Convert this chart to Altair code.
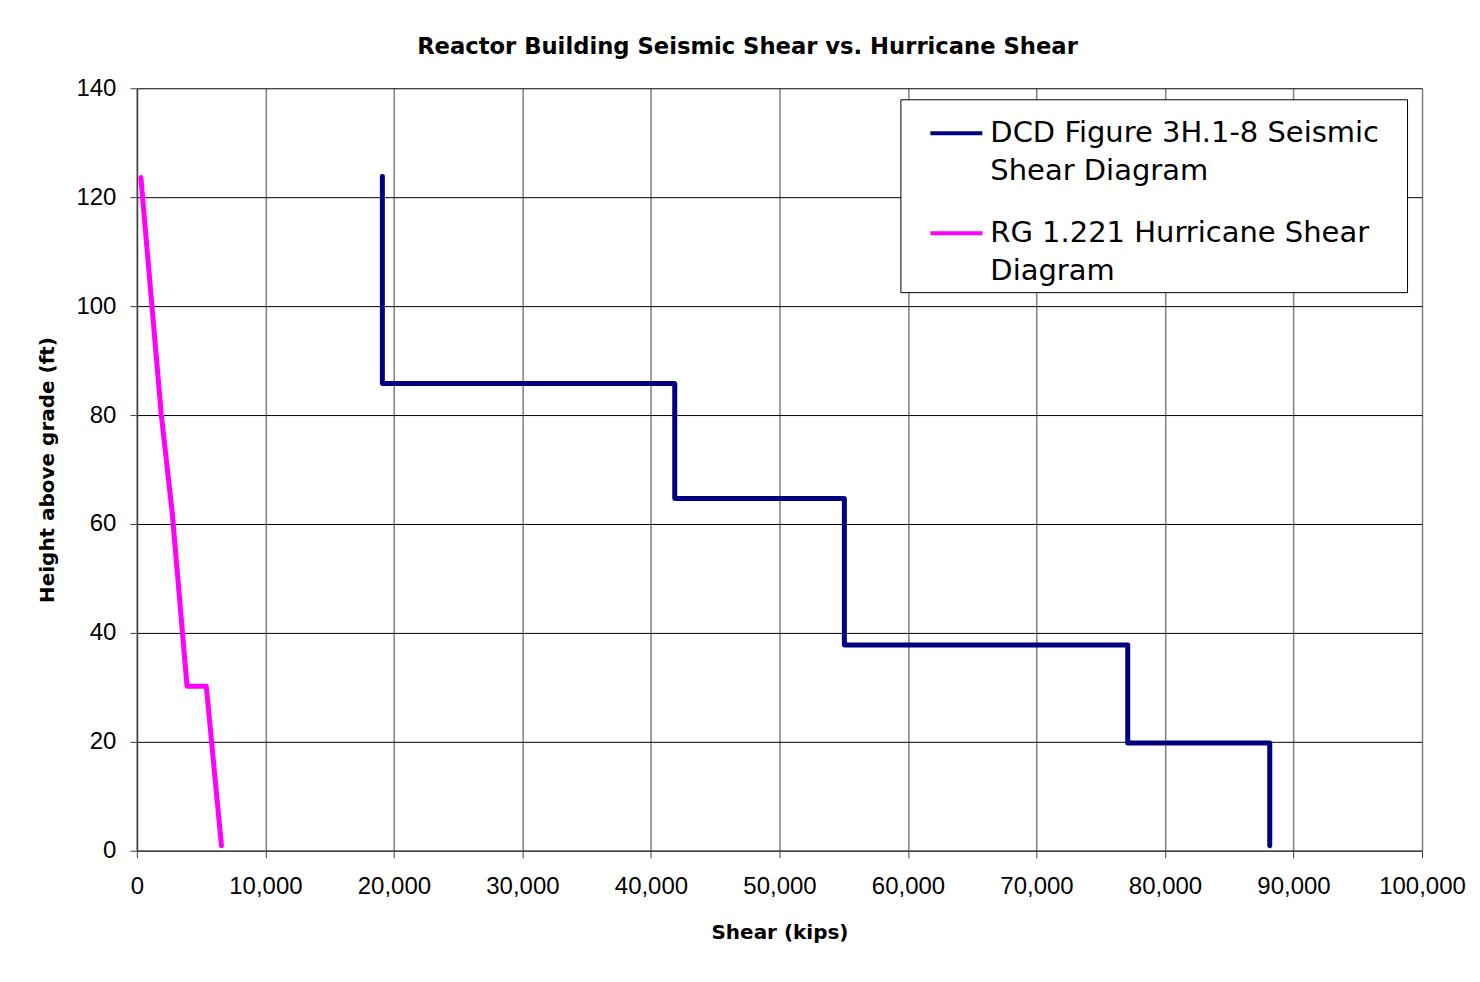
import altair as alt
import pandas as pd

seismic_shear = [19100, 19100, 41850, 41850, 55050, 55050, 77100, 77100, 88150, 88150]
seismic_height = [123.8, 85.8, 85.8, 64.7, 64.7, 37.8, 37.8, 19.8, 19.8, 0.9]

hurricane_shear = [310, 1900, 2750, 3900, 5400, 6580]
hurricane_height = [123.6, 80, 62, 30.2, 30.2, 0.9]

series_names = ["DCD Figure 3H.1-8 Seismic Shear Diagram", "RG 1.221 Hurricane Shear Diagram"]
series_colors = ["#000080", "#FF00FF"]

rows = []
for i, (x, y) in enumerate(zip(seismic_shear, seismic_height)):
    rows.append({"series": series_names[0], "shear": x, "height": y, "order": i})
for i, (x, y) in enumerate(zip(hurricane_shear, hurricane_height)):
    rows.append({"series": series_names[1], "shear": x, "height": y, "order": i})
df = pd.DataFrame(rows)

TICKFONT = "Liberation Sans"
TEXTFONT = "DejaVu Sans"

label_expr = (
    "datum.label == 'DCD Figure 3H.1-8 Seismic Shear Diagram' ? "
    "['DCD Figure 3H.1-8 Seismic\u2800', 'Shear Diagram'] : "
    "['RG 1.221 Hurricane Shear', 'Diagram']"
)

chart = alt.Chart(df).mark_line(strokeWidth=5, strokeCap="round", strokeJoin="round").encode(
    x=alt.X("shear:Q",
            scale=alt.Scale(domain=[0, 100000], nice=False),
            axis=alt.Axis(title="Shear (kips)", values=list(range(0, 100001, 10000)),
                          format=",d", gridColor="#808080", gridOpacity=1, gridWidth=1.5,
                          tickColor="#404040", tickSize=7, domainColor="#404040", domainWidth=1.5,
                          labelFontSize=24, labelFont=TICKFONT, labelPadding=17, labelColor="black",
                          labelFlush=False, labelOverlap=False,
                          titleFontSize=20, titleFont=TEXTFONT, titleFontWeight="bold",
                          titlePadding=24, titleColor="black")),
    y=alt.Y("height:Q",
            scale=alt.Scale(domain=[0, 140], nice=False),
            axis=alt.Axis(title="Height above grade (ft)", values=list(range(0, 141, 20)),
                          gridColor="black", gridOpacity=1, gridWidth=1,
                          tickColor="#404040", tickSize=7, domainColor="#404040", domainWidth=1.5,
                          labelFontSize=24, labelFont=TICKFONT, labelPadding=14, labelColor="black",
                          labelFlush=False,
                          titleFontSize=20, titleFont=TEXTFONT, titleFontWeight="bold",
                          titlePadding=18, titleColor="black")),
    color=alt.Color("series:N",
                    scale=alt.Scale(domain=series_names, range=series_colors),
                    sort=series_names,
                    legend=alt.Legend(title=None, orient="none", legendX=764, legendY=11,
                                      symbolType="stroke", symbolStrokeWidth=4, symbolSize=2704,
                                      symbolOffset=22,
                                      labelFontSize=29, labelFont=TEXTFONT, labelLimit=600,
                                      labelExpr=label_expr, labelBaseline="middle", labelColor="black",
                                      labelOffset=6,
                                      rowPadding=19, padding=6,
                                      strokeColor="black", fillColor="white")),
    order="order:Q",
).properties(
    width=1286,
    height=763,
    title=alt.TitleParams("Reactor Building Seismic Shear vs. Hurricane Shear",
                          fontSize=22.7, fontWeight="bold", font=TEXTFONT, color="black",
                          dx=-32, offset=18),
    autosize=alt.AutoSizeParams(type="none"),
    padding={"left": 129, "top": 80, "right": 50, "bottom": 120},
).configure(
    font=TEXTFONT,
    style={"guide-label": {"lineHeight": 38}},
).configure_view(stroke=None)

chart.save("out.html", embed_options={"renderer": "svg", "actions": False})
